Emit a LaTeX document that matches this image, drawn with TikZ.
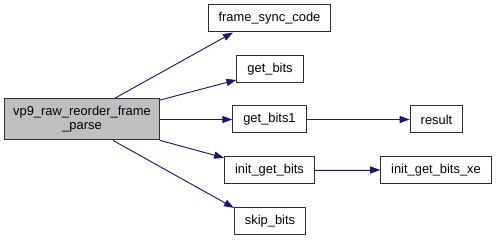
\documentclass[tikz,border=0pt]{standalone}
\usepackage{fontspec}
\setsansfont{Liberation Sans}
\usetikzlibrary{arrows.meta,positioning}
\definecolor{cgedge}{HTML}{191970}
\definecolor{cgroot}{HTML}{BFBFBF}
\definecolor{cgline}{HTML}{303030}
\tikzset{
  fn/.style={rectangle,draw=cgline,fill=white,line width=1pt,inner xsep=10.5pt,inner ysep=0pt,minimum height=27pt,font=\sffamily\fontsize{12.9}{14}\selectfont},
  fnroot/.style={fn,fill=cgroot,align=center,minimum height=41pt,inner xsep=8.5pt},
  call/.style={-{Triangle[length=10pt,width=7pt]},draw=cgedge,fill=cgedge,line width=.9pt},
}

\begin{document}
\begin{tikzpicture}[font=\sffamily,x=1pt,y=-1pt]
  \useasboundingbox[fill=white] (0,0) rectangle (499,240);
  \node[fnroot] (parse) at (82,119.5) {vp9\_raw\_reorder\_frame\\\_parse};
  \node[fn] (sync) at (269.5,18.5) {frame\_sync\_code};
  \node[fn] (getbits) at (270,69) {get\_bits};
  \node[fn] (getbitsone) at (269.5,119.5) {get\_bits1};
  \node[fn] (result) at (436.5,119.5) {result};
  \node[fn] (initgb) at (269.5,170) {init\_get\_bits};
  \node[fn] (initgbxe) at (436,170) {init\_get\_bits\_xe};
  \node[fn] (skip) at (270,221) {skip\_bits};
  % calls out of the parser
  \draw[call] (parse.33) -- (sync.201);
  \draw[call] (parse.14) -- (getbits.198);
  \draw[call] (parse.east) -- (getbitsone.west);
  \draw[call] (parse.-15) -- (initgb.165);
  \draw[call] (parse.-34) -- (skip.160);
  % second level
  \draw[call] (getbitsone.east) -- (result.west);
  \draw[call] (initgb.east) -- (initgbxe.west);
\end{tikzpicture}
\end{document}
